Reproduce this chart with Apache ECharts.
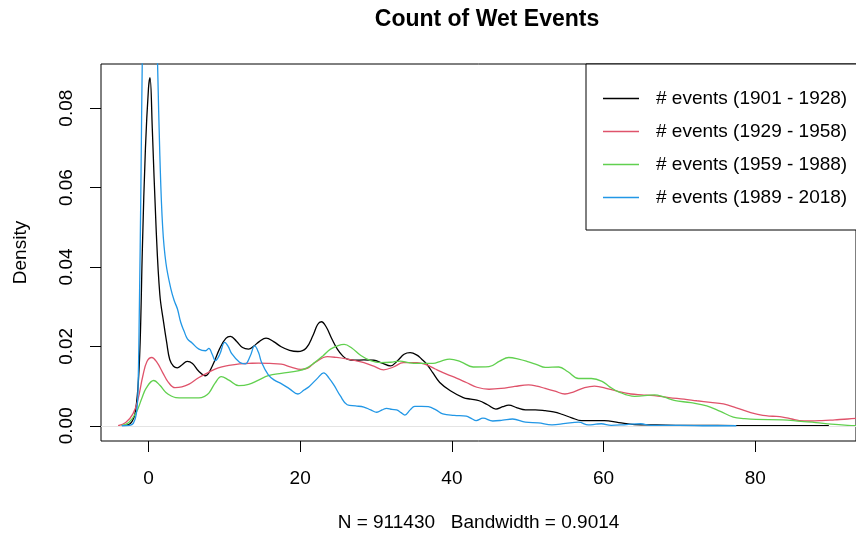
<!DOCTYPE html>
<html>
<head>
<meta charset="utf-8">
<script src="https://cdn.jsdelivr.net/npm/echarts@6/dist/echarts.min.js"></script>
<style>
html,body{margin:0;padding:0;background:#fff;}
#chart{width:856px;height:537px;}
</style>
</head>
<body>
<div id="chart"></div>
<script>
// ---- data (x = count of wet events, y = density) ----
const seriesNames = ['# events (1901 - 1928)', '# events (1929 - 1958)', '# events (1959 - 1988)', '# events (1989 - 2018)'];
const seriesColors = ['#000000', '#DF536B', '#61D04F', '#2297E6'];
const xTicks = [0, 20, 40, 60, 80];
const yTicks = [0, 0.02, 0.04, 0.06, 0.08];

const density1901 = [
 [-3.5,0],[-2.7,0.0002],[-2.2,0.001],[-1.8,0.0028],[-1.4,0.0093],[-1.1,0.021],[-0.8,0.045],[-0.4,0.070],
 [0.0,0.085],[0.2,0.0877],[0.5,0.075],[1.0,0.050],[1.5,0.033],[2.0,0.026],[2.4,0.021],[2.8,0.0167],
 [3.3,0.0150],[3.8,0.0146],[4.4,0.0153],[5.1,0.0162],[5.8,0.0157],[6.6,0.0138],[7.5,0.0126],[8.4,0.0150],
 [9.4,0.0195],[10.2,0.0220],[10.8,0.0225],[11.6,0.0213],[12.4,0.0197],[13.2,0.0193],[13.9,0.0201],[14.6,0.0212],
 [15.5,0.0221],[16.5,0.0212],[17.5,0.0199],[18.6,0.0190],[19.7,0.0187],[20.8,0.0196],[21.7,0.0228],[22.3,0.0255],
 [22.8,0.0262],[23.4,0.0250],[24.2,0.0218],[24.9,0.0193],[25.6,0.0176],[26.2,0.0168],[27.2,0.0165],[28.4,0.0166],
 [29.7,0.0165],[30.8,0.0158],[31.9,0.0151],[32.9,0.0165],[33.7,0.0180],[34.5,0.0184],[35.4,0.0178],[36.0,0.0168],
 [36.7,0.0155],[37.5,0.0133],[38.4,0.0109],[39.8,0.0088],[41.5,0.0071],[42.5,0.0067],[43.6,0.0063],[44.7,0.0053],
 [45.8,0.0042],[46.7,0.0048],[47.5,0.0052],[48.6,0.0045],[49.7,0.0040],[51.0,0.0040],[52.3,0.0038],[53.4,0.0035],
 [54.5,0.0029],[55.8,0.0020],[57.1,0.0013],[58.8,0.0013],[60.1,0.0013],[62.0,0.0008],[64.1,0.0003],[67.0,0.0002],
 [70.6,0.0001],[75.0,0.0001],[80.0,0],[85.0,0],[89.7,0]
];
const density1929 = [
 [-4.0,0],[-3.0,0.0008],[-2.05,0.003],[-1.4,0.0065],[-0.74,0.0126],[-0.2,0.0162],[0.43,0.0172],[1.1,0.0160],
 [1.87,0.0134],[2.6,0.0110],[3.5,0.0096],[4.4,0.0098],[5.35,0.0105],[6.6,0.0121],[7.96,0.0135],[9.2,0.0146],
 [10.6,0.0152],[12.0,0.0156],[13.2,0.0157],[14.5,0.0158],[16.0,0.0157],[17.5,0.0155],[18.8,0.0148],[20.1,0.0142],
 [21.0,0.0145],[22.0,0.0160],[23.6,0.0174],[24.8,0.0172],[26.2,0.0168],[27.3,0.0164],[28.4,0.0159],[29.7,0.0150],
 [31.0,0.0141],[32.3,0.0148],[33.6,0.0159],[35.4,0.0159],[36.6,0.0154],[37.8,0.0143],[39.3,0.0130],[40.6,0.0120],
 [41.9,0.0109],[43.3,0.0097],[44.9,0.0092],[46.5,0.0094],[48.3,0.0099],[50.1,0.0103],[51.2,0.0100],[52.3,0.0094],
 [53.6,0.0087],[54.9,0.0080],[56.0,0.0085],[57.5,0.0096],[58.8,0.0100],[60.6,0.0093],[62.0,0.0086],[63.6,0.0080],
 [65.0,0.0078],[66.7,0.0076],[68.6,0.0071],[70.6,0.0067],[72.3,0.0063],[74.1,0.0059],[75.8,0.0055],[77.5,0.0045],
 [79.3,0.0034],[81.0,0.0026],[82.3,0.0024],[83.6,0.0022],[84.8,0.0017],[85.8,0.0013],[87.3,0.0012],[88.8,0.0013],
 [90.5,0.0015],[92.2,0.0017],[93.5,0.0019]
];
const density1959 = [
 [-3.56,0],[-2.6,0.0008],[-1.6,0.0034],[-0.9,0.0068],[-0.3,0.0095],[0.69,0.0114],[1.5,0.0102],[2.3,0.0084],
 [3.0,0.0075],[3.6,0.0071],[4.6,0.0070],[5.6,0.0070],[6.65,0.0070],[7.4,0.0074],[7.96,0.0082],[8.8,0.0108],
 [9.6,0.0124],[10.6,0.0115],[11.9,0.0101],[13.2,0.0104],[14.5,0.0115],[15.8,0.0126],[17.5,0.0132],[19.7,0.0138],
 [20.9,0.0146],[21.9,0.0159],[23.0,0.0176],[24.0,0.0193],[25.0,0.0202],[25.8,0.0205],[26.8,0.0196],[28.0,0.0177],
 [29.3,0.0164],[30.6,0.0159],[31.9,0.0160],[33.2,0.0163],[34.3,0.0159],[35.4,0.0157],[37.5,0.0157],[38.6,0.0163],
 [39.7,0.0168],[41.2,0.0161],[42.8,0.0148],[44.9,0.0149],[46.3,0.0163],[47.5,0.0172],[48.8,0.0168],[50.1,0.0161],
 [51.2,0.0154],[52.3,0.0147],[54.1,0.0148],[55.3,0.0136],[56.7,0.0119],[58.4,0.0119],[59.8,0.0112],[60.8,0.0098],
 [61.9,0.0086],[64.1,0.0074],[66.7,0.0078],[68.0,0.0072],[69.3,0.0064],[71.5,0.0058],[73.6,0.0050],[75.4,0.0036],
 [77.1,0.0022],[78.6,0.0018],[80.1,0.0016],[83.6,0.0015],[86.0,0.0011],[88.0,0.0008],[90.0,0.0004],[92.2,0.0001],[93.5,0]
];
const density1989 = [
 [-3.5,0],[-2.5,0.0001],[-2.0,0.0006],[-1.6,0.003],[-1.4,0.008],[-1.2,0.030],[-1.0,0.060],[-0.8,0.095],
 [-0.4,0.14],[0.0,0.16],[0.4,0.15],[0.8,0.12],[1.2,0.091],[1.5,0.068],[1.87,0.050],[2.3,0.041],
 [2.96,0.0344],[3.4,0.0315],[3.82,0.0294],[4.26,0.0260],[4.7,0.0238],[5.13,0.0219],[5.78,0.0208],[6.65,0.0193],
 [7.53,0.0189],[7.96,0.0195],[8.4,0.0180],[8.83,0.0164],[9.4,0.0180],[10.05,0.0210],[10.5,0.0200],[11.0,0.0181],
 [12.0,0.0160],[12.75,0.0156],[13.4,0.0175],[14.0,0.0201],[14.5,0.0185],[14.9,0.0160],[15.8,0.0128],[16.6,0.0115],
 [17.5,0.0106],[18.6,0.0093],[19.7,0.0080],[20.5,0.0090],[21.2,0.0099],[22.3,0.0120],[23.1,0.0133],[23.8,0.0120],
 [24.5,0.0101],[25.3,0.0075],[26.2,0.0053],[27.3,0.0050],[28.4,0.0047],[29.3,0.0040],[30.1,0.0034],[30.8,0.0040],
 [31.4,0.0044],[32.1,0.0041],[32.7,0.0040],[33.3,0.0033],[33.8,0.0027],[34.5,0.0040],[35.1,0.0049],[36.0,0.0049],
 [36.9,0.0048],[37.9,0.0040],[38.8,0.0030],[40.3,0.0026],[41.9,0.0024],[42.6,0.0018],[43.2,0.0013],[44.1,0.0019],
 [45.4,0.0012],[46.7,0.0014],[48.0,0.0017],[49.7,0.0009],[51.4,0.0007],[53.2,0.0002],[55.0,0.0006],[56.7,0.0009],
 [58.0,0.0002],[59.0,0.0004],[59.7,0.0005],[61.0,0.0001],[63.0,0.0003],[64.9,0.0005],[66.2,0.0001],[70.0,0.0001],
 [74.0,0],[77.5,0]
];
const allDensities = [density1901, density1929, density1959, density1989];

// ---- chart ----
const FONT = 'Liberation Sans, Arial, Helvetica, sans-serif';
const chart = echarts.init(document.getElementById('chart'), null, {renderer: 'canvas'});

const series = allDensities.map((d, i) => ({
  name: seriesNames[i],
  type: 'line',
  data: d,
  symbol: 'none',
  smooth: 0.4,
  clip: true,
  lineStyle: {color: seriesColors[i], width: 1.3},
  itemStyle: {color: seriesColors[i]},
  z: 2 + i
}));
series[0].markLine = {
  silent: true,
  symbol: ['none', 'none'],
  label: {show: false},
  lineStyle: {color: '#e4e4e4', width: 1, type: 'solid'},
  data: [{yAxis: 0}]
};

chart.setOption({
  animation: false,
  backgroundColor: '#fff',
  title: {
    text: 'Count of Wet Events',
    left: 482,
    textAlign: 'center',
    top: 3,
    textStyle: {fontFamily: FONT, fontSize: 23, fontWeight: 'bold', color: '#000'}
  },
  grid: {
    show: true, left: 101, right: -8, top: 64, bottom: 95,
    borderColor: '#000', borderWidth: 1, backgroundColor: 'transparent',
    containLabel: false
  },
  legend: {
    orient: 'vertical',
    left: 586, top: 64,
    padding: [25, 17, 23, 17],
    itemGap: 14,
    icon: 'rect',
    itemWidth: 36, itemHeight: 1.4,
    borderColor: '#000', borderWidth: 1, borderRadius: 0,
    backgroundColor: '#fff',
    data: seriesNames,
    textStyle: {fontFamily: FONT, fontSize: 19, color: '#000', lineHeight: 19, padding: [0, 0, 0, 12]}
  },
  xAxis: {
    type: 'value',
    min: -6.26, max: 93.28,
    name: 'N = 911430   Bandwidth = 0.9014',
    nameLocation: 'middle',
    nameGap: 72,
    nameTextStyle: {fontFamily: FONT, fontSize: 19, color: '#000'},
    axisLine: {show: false, onZero: false},
    axisTick: {show: true, length: 11, customValues: xTicks, lineStyle: {color: '#000', width: 1}},
    axisLabel: {customValues: xTicks, margin: 28, fontFamily: FONT, fontSize: 19, color: '#000'},
    splitLine: {show: false}
  },
  yAxis: {
    type: 'value',
    min: -0.00384, max: 0.09113,
    name: 'Density',
    nameLocation: 'middle',
    nameRotate: 90,
    nameGap: 71,
    nameTextStyle: {fontFamily: FONT, fontSize: 19, color: '#000'},
    axisLine: {show: false, onZero: false},
    axisTick: {show: true, length: 11, customValues: yTicks, lineStyle: {color: '#000', width: 1}},
    axisLabel: {customValues: yTicks, rotate: 90, margin: 25, fontFamily: FONT, fontSize: 19, color: '#000',
      formatter: v => v.toFixed(2)},
    splitLine: {show: false}
  },
  series: series
});
</script>
</body>
</html>
